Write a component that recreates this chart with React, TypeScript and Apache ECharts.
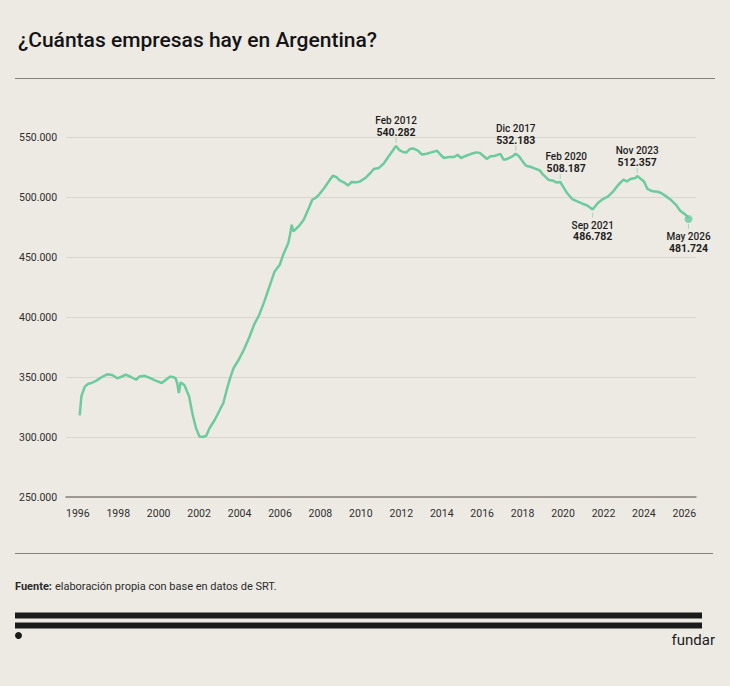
import { useEffect, useRef } from "react";
import * as echarts from "echarts";

// Empresas empleadoras registradas (lectura aproximada del gráfico)
const fechas = [
    "1996-09", "1996-10", "1996-12", "1997-02", "1997-04", "1997-07", "1997-10",
    "1998-01", "1998-04", "1998-07", "1998-09", "1998-12", "1999-03", "1999-06",
    "1999-08", "1999-11", "2000-02", "2000-05", "2000-09", "2000-12", "2001-02",
    "2001-05", "2001-06", "2001-07", "2001-08", "2001-10", "2001-11", "2001-12",
    "2002-01", "2002-03", "2002-05", "2002-07", "2002-09", "2002-11", "2003-01",
    "2003-04", "2003-07", "2003-09", "2003-11", "2004-01", "2004-03", "2004-06",
    "2004-09", "2004-12", "2005-03", "2005-06", "2005-09", "2005-12", "2006-03",
    "2006-06", "2006-08", "2006-11", "2006-12", "2007-01", "2007-02", "2007-05",
    "2007-08", "2007-11", "2008-01", "2008-03", "2008-05", "2008-08", "2008-10",
    "2009-01", "2009-03", "2009-05", "2009-08", "2009-10", "2009-12", "2010-03",
    "2010-05", "2010-08", "2010-11", "2011-01", "2011-04", "2011-07", "2011-09",
    "2011-12", "2012-02", "2012-04", "2012-06", "2012-08", "2012-10", "2012-12",
    "2013-03", "2013-05", "2013-08", "2013-10", "2014-02", "2014-04", "2014-06",
    "2014-09", "2014-12", "2015-02", "2015-04", "2015-07", "2015-10", "2016-01",
    "2016-03", "2016-05", "2016-07", "2016-09", "2016-12", "2017-03", "2017-05",
    "2017-07", "2017-10", "2017-12", "2018-02", "2018-04", "2018-06", "2018-09",
    "2018-12", "2019-02", "2019-04", "2019-07", "2019-10", "2019-12", "2020-02",
    "2020-06", "2020-09", "2020-12", "2021-03", "2021-06", "2021-09", "2021-12",
    "2022-03", "2022-06", "2022-09", "2022-12", "2023-03", "2023-05", "2023-07",
    "2023-10", "2023-11", "2024-03", "2024-05", "2024-08", "2024-11", "2025-01",
    "2025-04", "2025-07", "2025-10", "2025-12", "2026-04", "2026-05",
];

const empresas = [
    318000, 334000, 342000, 344400, 345000, 347200, 350000,
    352200, 351700, 348900, 350000, 352000, 350000, 347700,
    350500, 351000, 349200, 347200, 345000, 348300, 350500,
    349200, 345000, 336700, 345500, 343600, 340800, 337000,
    333800, 319000, 307500, 300500, 300000, 301000, 307500,
    314400, 322700, 328300, 339400, 349200, 357500, 364400,
    372700, 382500, 393600, 401900, 413000, 425500, 438000,
    443600, 451900, 461700, 468600, 476900, 471300, 475500,
    481100, 490800, 497700, 499200, 502000, 507500, 511700,
    517700, 516700, 513800, 511700, 509700, 512500, 512200,
    513000, 515800, 520000, 523300, 524200, 528300, 532500,
    538500, 542500, 539000, 537500, 537000, 540000, 540500,
    538500, 535500, 536000, 537000, 538500, 535200, 532500,
    533300, 533300, 535200, 532500, 534400, 536000, 537200,
    536700, 534400, 531700, 533800, 534400, 536000, 531000,
    531700, 533800, 536000, 533800, 529700, 526100, 525000,
    523300, 522200, 518600, 514400, 513500, 512000, 512500,
    503300, 498300, 496300, 494400, 492800, 489500, 495000,
    498300, 500500, 504700, 510200, 514400, 513000, 515000,
    515800, 517500, 513000, 506700, 504700, 504400, 503300,
    500500, 497200, 493000, 488800, 484400, 481700,
];

// Anotaciones del gráfico
const notasFecha = ["2012-02", "2017-12", "2020-02", "2021-09", "2023-11", "2026-05"];
const notasTexto = ["Feb 2012", "Dic 2017", "Feb 2020", "Sep 2021", "Nov 2023", "May 2026"];
const notasValor = ["540.282", "532.183", "508.187", "486.782", "512.357", "481.724"];
const notasAbajo = [false, false, false, true, false, true];

const yMin = 250000;
const yMax = 550000;
const yPaso = 50000;
const xMin = 1996;
const xMax = 2026.7;
// el eje de etiquetas del original va un poco más comprimido que los datos
const xEtiquetasMax = 2027.16;
const xPaso = 2;

const VERDE = "#6ccb9d";
const FONDO = "#edeae4";
const FUENTE = "Roboto, 'Noto Sans', sans-serif";

const aAnio = (f: string) => {
    const [a, m] = f.split("-").map(Number);
    return a + (m - 1) / 12;
};

const miles = (v: number) => String(v).replace(/\B(?=(\d{3})+(?!\d))/g, ".");

const App = () => {
    const chartRef = useRef<HTMLDivElement>(null);

    useEffect(() => {
        document.body.style.margin = "0";
        document.body.style.background = FONDO;
        if (!chartRef.current) return;

        const chart = echarts.init(chartRef.current, undefined, { renderer: "svg" });

        const puntos = fechas.map((f, i) => [aAnio(f), empresas[i]]);

        const marcas = notasFecha.map((f, i) => {
            const idx = fechas.indexOf(f);
            const abajo = notasAbajo[i];
            const conPunto = i === notasFecha.length - 1;
            return {
                coord: [aAnio(f), empresas[idx]],
                symbol: "rect",
                symbolSize: [1, 5],
                symbolOffset: [0, abajo ? (conPunto ? 7.5 : 5.5) : -5.5],
                itemStyle: { color: "#9fd9bd" },
                label: {
                    show: true,
                    position: abajo ? "bottom" : "top",
                    distance: abajo ? 2 : 0,
                    offset: f === "2020-02" ? [6, 0] : [0, 0],
                    formatter: `{f|${notasTexto[i]}}\n{v|${notasValor[i]}}`,
                },
            };
        });

        const ultimo = puntos[puntos.length - 1];

        chart.setOption({
            animation: false,
            backgroundColor: FONDO,
            textStyle: { fontFamily: FUENTE },
            grid: { left: 66, right: 34, top: 137, bottom: 189 },
            xAxis: [
                {
                    type: "value",
                    position: "bottom",
                    min: xMin,
                    max: xMax,
                    axisLine: { show: true, lineStyle: { color: "#85807a", width: 1.5 } },
                    axisTick: { show: false },
                    splitLine: { show: false },
                    axisLabel: { show: false },
                },
                {
                    type: "value",
                    position: "bottom",
                    min: xMin,
                    max: xEtiquetasMax,
                    interval: xPaso,
                    axisLine: { show: false },
                    axisTick: { show: false },
                    splitLine: { show: false },
                    axisLabel: {
                        align: "left",
                        margin: 11,
                        fontSize: 10.5,
                        color: "#2e2e2e",
                        fontFamily: FUENTE,
                        formatter: (v: number) =>
                            Number.isInteger(v) && v % xPaso === 0 ? String(v) : "",
                    },
                },
            ],
            yAxis: {
                type: "value",
                min: yMin,
                max: yMax,
                interval: yPaso,
                axisLine: { show: false },
                axisTick: { show: false },
                splitLine: { lineStyle: { color: "#d9d5cf", width: 1 } },
                axisLabel: {
                    align: "left",
                    margin: 47,
                    fontSize: 10.5,
                    color: "#2e2e2e",
                    fontFamily: FUENTE,
                    padding: [0, 0, 6, 0],
                    formatter: (v: number) => miles(v),
                },
            },
            series: [
                {
                    type: "line",
                    xAxisIndex: 0,
                    data: puntos,
                    showSymbol: false,
                    symbol: "none",
                    lineStyle: { color: VERDE, width: 2.5 },
                    z: 3,
                    markPoint: {
                        data: marcas,
                        label: {
                            color: "#1e1e1e",
                            rich: {
                                f: { fontSize: 10, fontWeight: 500, lineHeight: 11.5, fontFamily: FUENTE, color: "#1e1e1e" },
                                v: { fontSize: 10.5, fontWeight: 700, lineHeight: 11.5, fontFamily: FUENTE, color: "#1e1e1e" },
                            },
                        },
                    },
                },
                {
                    type: "scatter",
                    xAxisIndex: 0,
                    data: [ultimo],
                    symbolSize: 8,
                    itemStyle: { color: VERDE },
                    z: 4,
                },
            ],
            graphic: [
                {
                    type: "text",
                    left: 18,
                    top: 29,
                    style: {
                        text: "¿Cuántas empresas hay en Argentina?",
                        fontSize: 21,
                        fontWeight: 500,
                        fontFamily: FUENTE,
                        fill: "#141414",
                    },
                },
                {
                    type: "line",
                    shape: { x1: 15, y1: 78.5, x2: 715, y2: 78.5 },
                    style: { stroke: "#86817b", lineWidth: 1.2 },
                },
                {
                    type: "line",
                    shape: { x1: 15, y1: 553.5, x2: 713, y2: 553.5 },
                    style: { stroke: "#86817b", lineWidth: 1.2 },
                },
                {
                    type: "text",
                    left: 15,
                    top: 580,
                    style: {
                        text: "{b|Fuente:} {n|elaboración propia con base en datos de SRT.}",
                        fontFamily: FUENTE,
                        rich: {
                            b: { fontSize: 11, fontWeight: 700, fill: "#2b2b2b", fontFamily: FUENTE },
                            n: { fontSize: 11, fontWeight: 400, fill: "#2b2b2b", fontFamily: FUENTE },
                        },
                    },
                },
                {
                    type: "rect",
                    shape: { x: 15, y: 612.5, width: 687, height: 6 },
                    style: { fill: "#1b1b1b" },
                },
                {
                    type: "rect",
                    shape: { x: 15, y: 622.5, width: 687, height: 6 },
                    style: { fill: "#1b1b1b" },
                },
                {
                    type: "circle",
                    shape: { cx: 18.5, cy: 635.5, r: 3.5 },
                    style: { fill: "#1b1b1b" },
                },
                {
                    type: "text",
                    right: 15,
                    top: 632,
                    style: {
                        text: "fundar",
                        fontSize: 15,
                        fontWeight: 400,
                        fontFamily: FUENTE,
                        fill: "#1b1b1b",
                    },
                },
            ],
        });

        return () => {
            chart.dispose();
        };
    }, []);

    return (
        <div
            ref={chartRef}
            style={{
                position: "fixed",
                left: 0,
                top: 0,
                width: "730px",
                height: "686px",
            }}
        />
    );
};

export default App;
